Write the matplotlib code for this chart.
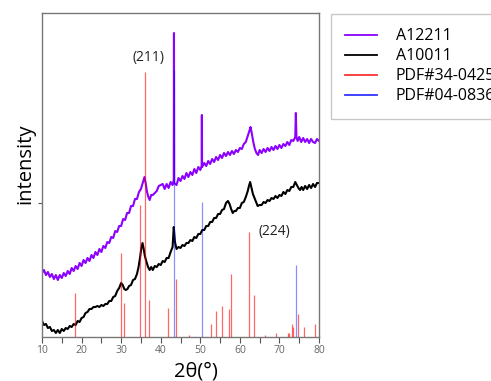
import matplotlib
matplotlib.use("Agg")
import matplotlib.pyplot as plt
from matplotlib.lines import Line2D

plt.rcParams['font.family'] = ['Open Sans', 'DejaVu Sans']

# A12211 (purple) spectrum: 2theta, intensity (a.u.)
a12211_x = [10, 10.5, 11, 11.5, 12, 12.5, 13, 13.5, 14, 14.5, 15, 15.5, 16, 16.5, 17, 17.5, 18, 18.5, 19, 19.5,
            20, 20.5, 21, 21.5, 22, 22.5, 23, 23.5, 24, 24.5, 25, 25.5, 26, 26.5, 27, 27.5, 28, 28.5, 29, 29.5,
            30, 30.5, 31, 31.5, 32, 32.5, 33, 33.5, 34, 34.5, 35, 35.3, 35.6, 35.9, 36.2, 36.5, 36.8, 37.2, 37.6,
            38, 38.5, 39, 39.5, 40, 40.5, 41, 41.5, 42, 42.5, 43, 43.3, 43.35, 43.4, 44, 44.5, 45, 45.5, 46,
            46.5, 47, 47.5, 48, 48.5, 49, 49.5, 50, 50.35, 50.4, 50.45, 51, 51.5, 52, 52.5, 53, 53.5, 54, 54.5, 55,
            55.5, 56, 56.5, 57, 57.5, 58, 58.5, 59, 59.5, 60, 60.5, 61, 61.5, 62, 62.4, 62.7, 63, 63.4, 63.8, 64.2,
            64.6, 65, 65.5, 66, 66.5, 67, 67.5, 68, 68.5, 69, 69.5, 70, 70.5, 71, 71.5, 72, 72.5, 73, 73.5, 74,
            74.15, 74.3, 74.6, 75, 75.5, 76, 76.5, 77, 77.5, 78, 78.5, 79, 79.5, 80]
a12211_y = [64, 67, 62, 65, 60, 63, 58, 62, 57, 62, 59, 64, 61, 66, 63, 69, 66, 71, 68, 74,
            71, 77, 74, 79, 76, 82, 79, 85, 82, 88, 85, 91, 89, 95, 94, 100, 99, 106, 105, 111,
            111, 118, 117, 124, 124, 131, 131, 138, 138, 145, 148, 152, 156, 160, 154, 146, 141, 137, 142,
            142, 144, 146, 151, 152, 153, 148, 153, 149, 155, 152, 157, 304, 154, 152, 159, 156, 161, 158,
            164, 160, 165, 162, 168, 164, 170, 167, 171, 222, 170, 174, 171, 176, 173, 178, 175, 180, 177, 182,
            179, 184, 181, 185, 182, 186, 183, 187, 185, 189, 188, 193, 195, 201, 206, 210, 204, 195, 188, 184,
            182, 187, 184, 188, 185, 189, 186, 190, 187, 191, 188, 192, 189, 193, 191, 195, 192, 197, 196, 200,
            224, 200, 196, 200, 195, 199, 195, 198, 194, 198, 195, 194, 198, 196]

# A10011 (black) spectrum
a10011_x = [10, 10.5, 11, 11.5, 12, 12.5, 13, 13.5, 14, 14.5, 15, 15.5, 16, 16.5, 17, 17.5, 18, 18.5, 19, 19.5,
            20, 20.5, 21, 21.5, 22, 22.5, 23, 23.5, 24, 24.5, 25, 25.5, 26, 26.5, 27, 27.5, 28, 28.5, 29, 29.5,
            30, 30.4, 30.8, 31.2, 31.6, 32, 32.5, 33, 33.5, 34, 34.4, 34.8, 35.1, 35.4, 35.7, 36, 36.4, 36.8, 37.2,
            37.6, 38, 38.5, 39, 39.5, 40, 40.5, 41, 41.5, 42, 42.5, 43, 43.3, 43.6, 44, 44.5, 45, 45.5, 46, 46.5,
            47, 47.5, 48, 48.5, 49, 49.5, 50, 50.5, 51, 51.5, 52, 52.5, 53, 53.5, 54, 54.5, 55, 55.5, 56, 56.5,
            57, 57.4, 57.8, 58.2, 58.6, 59, 59.5, 60, 60.5, 61, 61.5, 62, 62.3, 62.6, 62.9, 63.3, 63.7, 64.1, 64.5,
            65, 65.5, 66, 66.5, 67, 67.5, 68, 68.5, 69, 69.5, 70, 70.5, 71, 71.5, 72, 72.5, 73, 73.5, 74, 74.4,
            74.8, 75.2, 75.6, 76, 76.5, 77, 77.5, 78, 78.5, 79, 79.5, 80]
a10011_y = [16, 12, 13, 9, 10, 6, 7, 4, 7, 4, 8, 6, 9, 8, 11, 10, 13, 12, 16, 15,
            19, 20, 24, 25, 28, 28, 30, 30, 31, 30, 32, 31, 33, 33, 36, 36, 40, 41, 46, 49,
            54, 52, 48, 47, 48, 51, 52, 57, 58, 63, 70, 80, 89, 94, 88, 81, 75, 70, 67,
            70, 67, 71, 70, 73, 72, 76, 75, 79, 79, 85, 90, 110, 95, 88, 90, 89, 92, 91, 94,
            94, 97, 96, 100, 99, 103, 103, 107, 107, 111, 111, 115, 115, 119, 119, 123, 123, 127, 128, 134,
            136, 133, 128, 124, 126, 126, 129, 129, 134, 135, 140, 146, 151, 155, 150, 143, 139, 135, 131,
            132, 132, 135, 134, 137, 136, 139, 138, 141, 139, 142, 141, 145, 143, 147, 146, 150, 150, 155, 152,
            149, 147, 150, 147, 151, 148, 152, 149, 153, 150, 154, 154]

# PDF#34-0425 reference lines (red)
pdf34_pos = [18.3, 29.9, 30.6, 34.7, 35.95, 37.1, 41.9, 43.9, 47.1, 52.7, 53.9, 55.6, 57.2, 57.8, 62.2, 63.6,
             66.3, 69.2, 72.1, 72.4, 73.3, 73.5, 74.6, 76.1, 79.0]
pdf34_int = [44, 84, 34, 132, 265, 37, 29, 58, 2, 13, 26, 31, 28, 63, 105, 42,
             2, 4, 4, 4, 13, 10, 23, 10, 13]

# PDF#04-0836 reference lines (blue)
pdf04_pos = [43.35, 50.35, 74.1]
pdf04_int = [267, 135, 72]

x_ticks = [10, 20, 30, 40, 50, 60, 70, 80]

fig = plt.figure(figsize=(4.91, 3.81), dpi=100)
ax = fig.add_axes([42/491, 44/381, 277/491, 324/381])

ax.plot(a12211_x, a12211_y, color='#8B00FF', lw=1.5, zorder=2)
ax.plot(a10011_x, a10011_y, color='black', lw=1.5, zorder=2)
ax.vlines(pdf34_pos, 0, pdf34_int, color='#FF0000', alpha=0.6, lw=0.9, zorder=3)
ax.vlines(pdf04_pos, 0, pdf04_int, color='#0000FF', alpha=0.45, lw=0.9, zorder=3)

ax.set_xlim(10, 80)
ax.set_ylim(0, 324)
ax.set_xticks(x_ticks)
ax.set_xticks([15, 25, 35, 45, 55, 65, 75], minor=True)
ax.set_yticks([134])
ax.set_yticklabels([])
ax.tick_params(axis='x', which='both', direction='out', length=4, width=0.8, color='#555555',
               labelsize=7.5, labelcolor='#666666', pad=2)
ax.tick_params(axis='y', direction='out', length=3, width=0.8, color='#555555')
for s in ax.spines.values():
    s.set_color('#777777')
    s.set_linewidth(1.0)

ax.text(36.8, 279, '(211)', fontsize=10, ha='center', va='center', color='#222222')
ax.text(68.75, 106, '(224)', fontsize=10, ha='center', va='center', color='#222222')

fig.text(196/491, 1 - 372/381, '2θ(°)', fontsize=14.5, ha='center', va='center')
fig.text(25/491, 1 - 164/381, 'intensity', fontsize=14.5, ha='center', va='center', rotation=90)

handles = [Line2D([], [], color='#8B00FF', lw=1.3),
           Line2D([], [], color='black', lw=1.3),
           Line2D([], [], color='#FF3333', lw=1.3),
           Line2D([], [], color='#3333FF', lw=1.3)]
labels = ['A12211', 'A10011', 'PDF#34-0425', 'PDF#04-0836']
leg = fig.legend(handles, labels, loc='upper left', bbox_to_anchor=(331/491, 1 - 14/381),
                 borderaxespad=0, fontsize=11.5, frameon=True, fancybox=False, edgecolor='#bbbbbb',
                 handlelength=2.0, handletextpad=1.15, borderpad=0.9, labelspacing=0.25)
leg.get_frame().set_linewidth(1.0)

fig.savefig('out.png', dpi=100)
